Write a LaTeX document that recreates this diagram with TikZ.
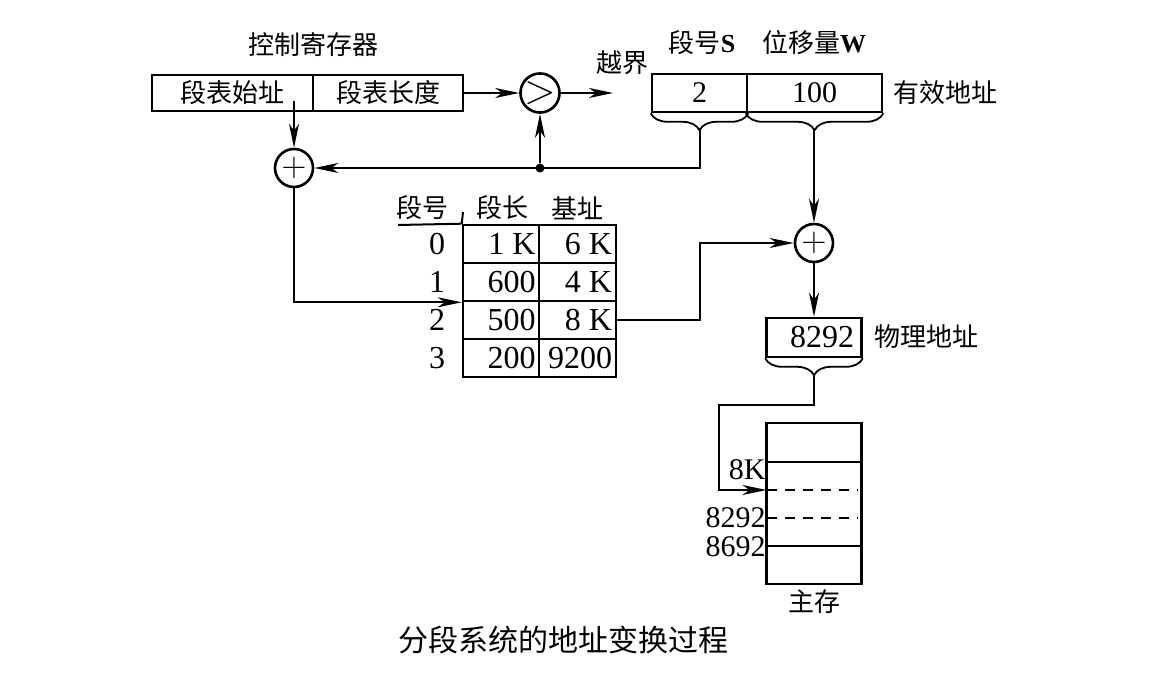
\documentclass[tikz,border=0pt]{standalone}
\usepackage{fontspec}
\setmainfont{Liberation Serif}
\newfontfamily\cjk{Noto Sans CJK SC}
\usetikzlibrary{arrows.meta,decorations.pathreplacing,calc}
\newcommand{\zh}[1]{{\cjk\fontsize{13}{15}\selectfont #1}}
\newcommand{\rgt}[1]{\makebox[34.5pt][r]{#1}}
\tikzset{
 cell/.style={draw, line width=1.3pt, inner sep=0pt, font=\fontsize{15}{17}\selectfont},
 tcell/.style={cell, font=\fontsize{16}{18}\selectfont},
 lab/.style={inner sep=0pt, font=\cjk\fontsize{13}{15}\selectfont},
 num/.style={inner sep=0pt, font=\fontsize{16}{18}\selectfont},
 mlab/.style={inner sep=0pt, anchor=east, font=\fontsize{15}{15}\selectfont},
 conn/.style={line width=1pt},
 arr/.style={conn, -{Stealth[length=12pt,width=5pt,inset=3.5pt]}},
 op/.style={circle, draw, line width=1.3pt, minimum size=19pt, inner sep=0pt, font=\fontsize{17}{17}\selectfont},
 brc/.style={decorate, decoration={brace, mirror, amplitude=8.5pt}, line width=0.9pt},
}
\begin{document}
\begin{tikzpicture}[x=0.5pt,y=-0.5pt]
\useasboundingbox (0,0) rectangle (1155,694);

% control register
\node[lab] (ctl) at (313,45) {控制寄存器};
\node[cell, minimum width=80.5pt, minimum height=18pt] (sta) at (232.5,93) {\zh{段表始址}};
\node[cell, minimum width=75pt, minimum height=18pt] (len) at (388,93) {\zh{段表长度}};
\coordinate (sabot) at (294,101);

% comparator and adders
\node[op, font=\fontsize{20}{20}\selectfont] (gt) at (540,93) {\raisebox{0.5pt}{$>$}};
\node[op] (plus1) at (294,168) {$+$};
\node[op] (plus2) at (814,243) {$+$};
\node[circle, fill, inner sep=0pt, minimum size=4.5pt] (dot) at (540,168) {};
\coordinate (oob) at (613,93);
\node[lab] (yj) at (622,63) {越界};

% effective address
\node[lab] (sl) at (702,43) {段号\textrm{\bfseries S}};
\node[lab] (wl) at (814,43) {位移量\textrm{\bfseries W}};
\node[cell, minimum width=47.5pt, minimum height=19pt] (sv) at (699.5,93) {2};
\node[cell, minimum width=67.5pt, minimum height=19pt] (wv) at (814.5,93) {100};
\node[lab] (eff) at (945,93) {有效地址};
\draw[brc] (sv.south west) -- (sv.south east);
\draw[brc] (wv.south west) -- (wv.south east);
\coordinate (stip) at (699.5,130);
\coordinate (wtip) at (814,130);

% segment table
\node[lab] (h0) at (422,208) {段号};
\node[lab] (h1) at (502,208) {段长};
\node[lab] (h2) at (577,208) {基址};
\foreach \r/\y/\a/\b in {0/244/1 K/6 K, 1/282/600/4 K, 2/320/500/8 K, 3/358/200/9200}{
  \node[num] (n\r) at (437,\y) {\r};
  \node[tcell, minimum width=38pt, minimum height=19pt] (t\r a) at (501,\y) {\rgt{\a}};
  \node[tcell, minimum width=38.5pt, minimum height=19pt] (t\r b) at (577.5,\y) {\rgt{\b}};
}
\coordinate (tick) at (463,212);
\coordinate (ulft) at (398,225);
\draw[conn] (tick) -- (t0a.north west);
\draw[conn] (ulft) -- (t0a.north west);

% physical address
\node[tcell, minimum width=47.5pt, minimum height=19.5pt] (phys) at (814,337.5) {\hspace{8pt}8292};
\node[lab] (pl) at (926,337) {物理地址};
\draw[brc] (phys.south west) -- (phys.south east);
\coordinate (ptip) at (814,375);

% main memory
\node[draw, line width=1.3pt, minimum width=47.5pt, minimum height=80.5pt, inner sep=0pt] (mem) at (814,503.5) {};
\draw[line width=1.3pt] (766.5,462) -- (861.5,462);
\draw[line width=1.3pt] (766.5,546) -- (861.5,546);
\draw[line width=1pt, dash pattern=on 5pt off 4pt] (766.5,490) -- (858,490);
\draw[line width=1pt, dash pattern=on 5pt off 4pt] (766.5,518) -- (858,518);
\coordinate (m8k) at (766.5,490);
\node[mlab] (l8k) at (766,470) {8K};
\node[mlab] (l8292) at (766,518) {8292};
\node[mlab] (l8692) at (766,547) {8692};
\node[lab] (zc) at (814,602) {主存};

\node[inner sep=0pt, font=\cjk\fontsize{15}{17}\selectfont] (cap) at (563,640) {分段系统的地址变换过程};

% connectors
\draw[arr] (len.east) -- (gt.west);
\draw[arr] (gt.east) -- (oob);
\draw[arr] (dot) -- (gt.south);
\draw[arr] (stip) |- (plus1.east);
\draw[arr] (sabot) -- (plus1.north);
\draw[arr] (plus1.south) |- (t1a.south west);
\coordinate (bend1) at (700,320);
\draw[arr] (t2b.east) -- (bend1) |- (plus2.west);
\draw[arr] (wtip) -- (plus2.north);
\draw[arr] (plus2.south) -- (phys.north);
\coordinate (c1) at (719,405);
\draw[arr] (ptip) |- (c1) |- (m8k);
\end{tikzpicture}
\end{document}
